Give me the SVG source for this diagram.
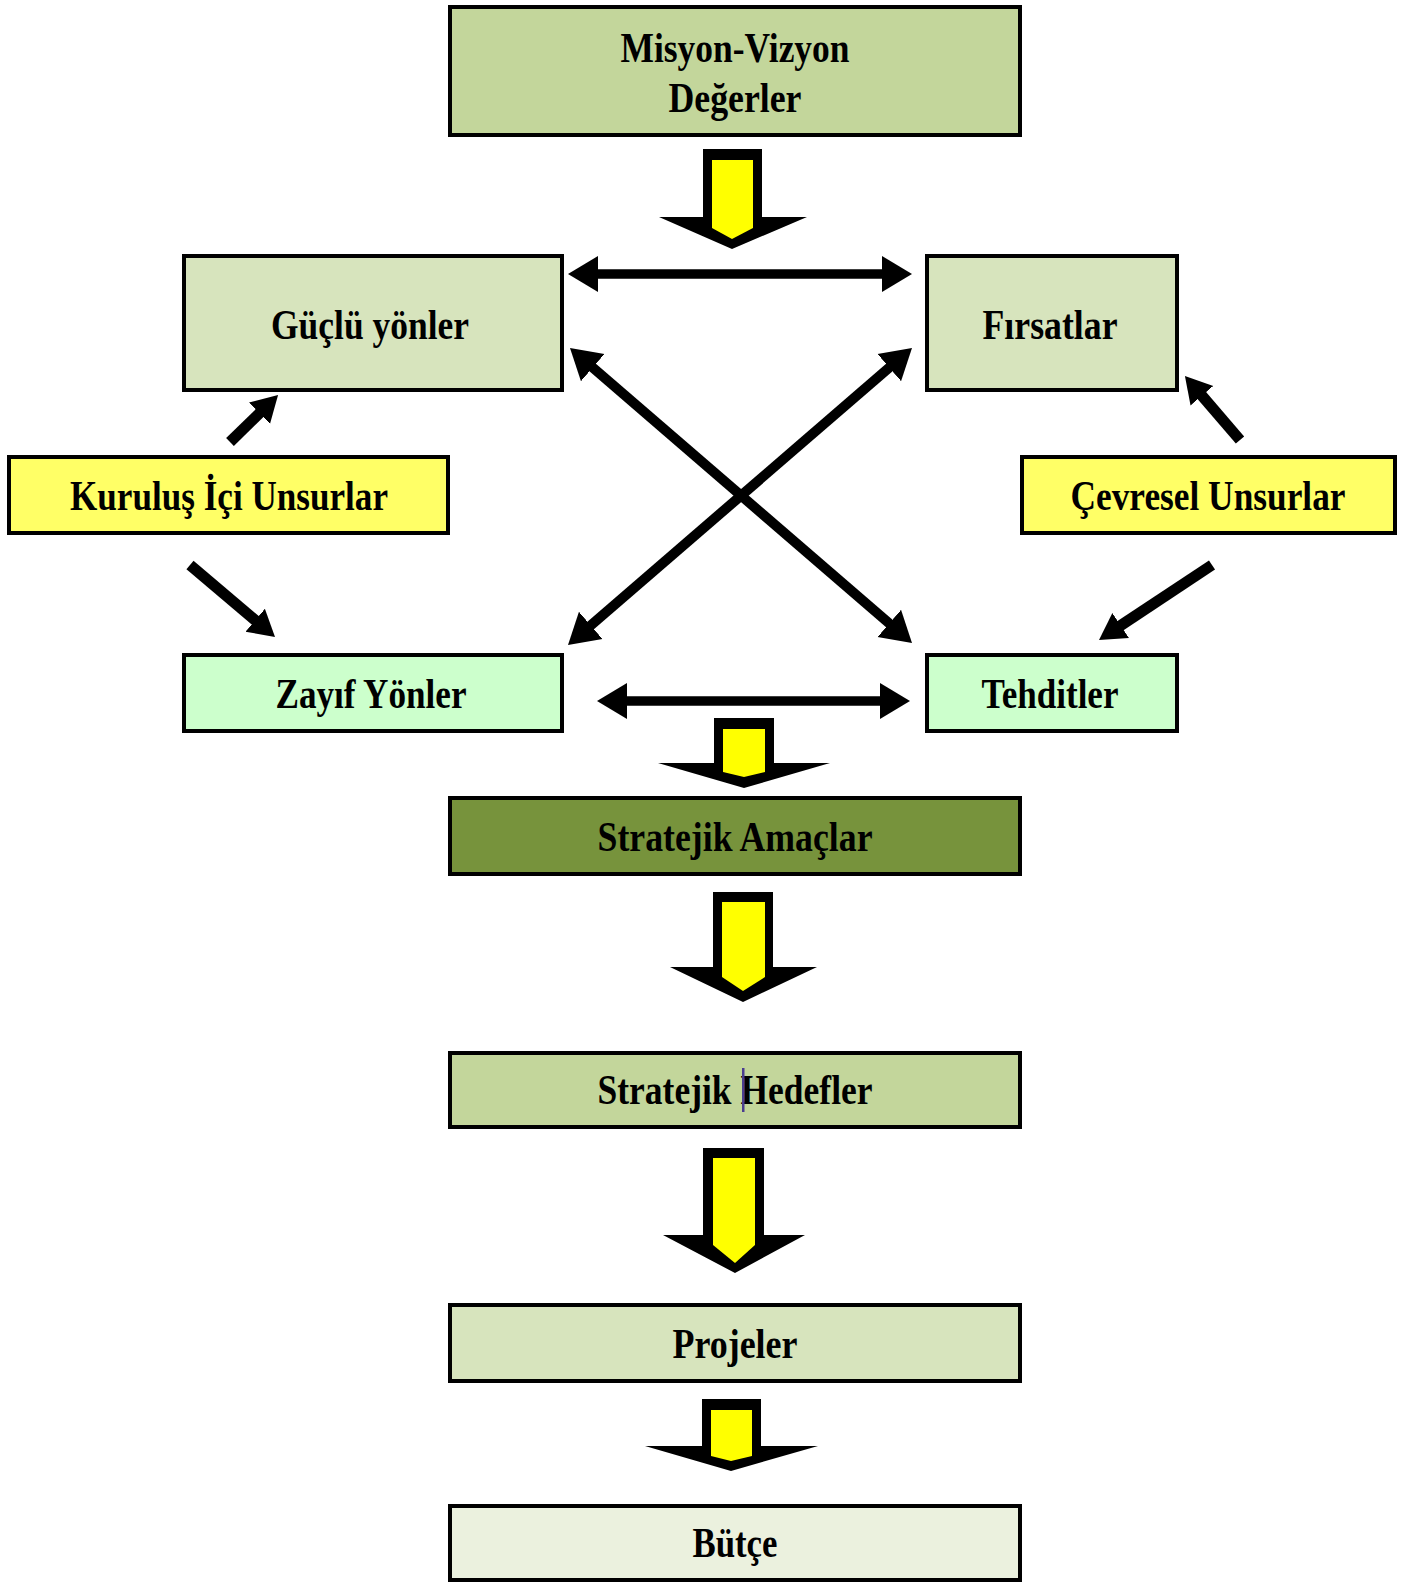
<svg xmlns="http://www.w3.org/2000/svg" width="1422" height="1583" viewBox="0 0 1422 1583">
<style>
.box{stroke:#000;stroke-width:4}
.t{font-family:"Liberation Serif","Times New Roman",serif;font-weight:bold;font-size:43px;fill:#000;text-anchor:middle}
.ln{stroke:#000;fill:none}
.big{stroke-width:9.5;marker-start:url(#hb);marker-end:url(#hb)}
.sm{stroke-width:11;marker-end:url(#hs)}
.bo{fill:#000}
.bi{fill:#ffff00}
</style>
<defs>
<marker id="hb" markerUnits="userSpaceOnUse" markerWidth="34" markerHeight="40" viewBox="0 -20 34 40" refX="2" refY="0" orient="auto-start-reverse">
<path d="M0,-18 L30,0 L0,18 Z" fill="#000"/>
</marker>
<marker id="hs" markerUnits="userSpaceOnUse" markerWidth="30" markerHeight="34" viewBox="0 -17 30 34" refX="2" refY="0" orient="auto">
<path d="M0,-15 L26,0 L0,15 Z" fill="#000"/>
</marker>
</defs>
<rect width="1422" height="1583" fill="#fff"/>

<g id="misyon">
<rect class="box" x="450" y="7" width="570" height="128" fill="#c3d69b"/>
<text class="t" x="735" y="62" textLength="229" lengthAdjust="spacingAndGlyphs">Misyon-Vizyon</text>
<text class="t" x="735" y="112" textLength="133" lengthAdjust="spacingAndGlyphs">Değerler</text>
</g>
<g id="guclu">
<rect class="box" x="184" y="256" width="378" height="134" fill="#d7e4bd"/>
<text class="t" x="370" y="339" textLength="198" lengthAdjust="spacingAndGlyphs">Güçlü yönler</text>
</g>
<g id="firsatlar">
<rect class="box" x="927" y="256" width="250" height="134" fill="#d7e4bd"/>
<text class="t" x="1050" y="339" textLength="135" lengthAdjust="spacingAndGlyphs">Fırsatlar</text>
</g>
<g id="kurulus">
<rect class="box" x="9" y="457" width="439" height="76" fill="#ffff66"/>
<text class="t" x="229" y="510" textLength="318" lengthAdjust="spacingAndGlyphs">Kuruluş  İçi Unsurlar</text>
</g>
<g id="cevresel">
<rect class="box" x="1022" y="457" width="373" height="76" fill="#ffff66"/>
<text class="t" x="1208" y="510" textLength="275" lengthAdjust="spacingAndGlyphs">Çevresel Unsurlar</text>
</g>
<g id="zayif">
<rect class="box" x="184" y="655" width="378" height="76" fill="#ccffcc"/>
<text class="t" x="371" y="708" textLength="191" lengthAdjust="spacingAndGlyphs">Zayıf Yönler</text>
</g>
<g id="tehditler">
<rect class="box" x="927" y="655" width="250" height="76" fill="#ccffcc"/>
<text class="t" x="1050" y="708" textLength="137" lengthAdjust="spacingAndGlyphs">Tehditler</text>
</g>
<g id="amaclar">
<rect class="box" x="450" y="798" width="570" height="76" fill="#77933c"/>
<text class="t" x="735" y="851" textLength="275" lengthAdjust="spacingAndGlyphs">Stratejik Amaçlar</text>
</g>
<g id="hedefler">
<rect class="box" x="450" y="1053" width="570" height="74" fill="#c3d69b"/>
<text class="t" x="735" y="1104" textLength="275" lengthAdjust="spacingAndGlyphs">Stratejik Hedefler</text>
<rect x="742" y="1068" width="2.5" height="44" fill="#4a3d8f"/>
</g>
<g id="projeler">
<rect class="box" x="450" y="1305" width="570" height="76" fill="#d7e4bd"/>
<text class="t" x="735" y="1358" textLength="125" lengthAdjust="spacingAndGlyphs">Projeler</text>
</g>
<g id="butce">
<rect class="box" x="450" y="1506" width="570" height="74" fill="#ebf1de"/>
<text class="t" x="735" y="1557" textLength="85" lengthAdjust="spacingAndGlyphs">Bütçe</text>
</g>

<g id="connectors">
<line class="ln big" x1="596" y1="274" x2="884" y2="274"/>
<line class="ln big" x1="625" y1="701" x2="882" y2="701"/>
<line class="ln big" style="stroke-width:10" x1="591.2" y1="366.3" x2="890.8" y2="624.7"/>
<line class="ln big" style="stroke-width:10" x1="890.8" y1="366.3" x2="589.2" y2="626.7"/>
<line class="ln sm" x1="230" y1="442" x2="260.9" y2="411.8"/>
<line class="ln sm" x1="190" y1="565" x2="256.7" y2="621.5"/>
<line class="ln sm" x1="1240" y1="440" x2="1200.6" y2="394.2"/>
<line class="ln sm" x1="1212" y1="565" x2="1119" y2="626.7"/>
<g id="block1">
<polygon class="bo" points="703,149 762,149 762,217 807,217 732,249 659,217 703,217"/>
<polygon class="bi" points="712,160 753,160 753,228 732,239 712,228"/>
</g>
<g id="block2">
<polygon class="bo" points="714,718 774,718 774,763 830,763 744,788 658,763 714,763"/>
<polygon class="bi" points="723,729 765,729 765,772 744,777 723,772"/>
</g>
<g id="block3">
<polygon class="bo" points="713,892 773,892 773,967 817,967 743,1002 670,967 713,967"/>
<polygon class="bi" points="722,902 765,902 765,977 743,991 722,977"/>
</g>
<g id="block4">
<polygon class="bo" points="703,1148 764,1148 764,1235 805,1235 735,1273 663,1235 703,1235"/>
<polygon class="bi" points="713,1158 755,1158 755,1245 735,1263 713,1245"/>
</g>
<g id="block5">
<polygon class="bo" points="702,1399 761,1399 761,1446 818,1446 731,1471 645,1446 702,1446"/>
<polygon class="bi" points="711,1410 752,1410 752,1456 731,1461 711,1456"/>
</g>
</g>
</svg>
